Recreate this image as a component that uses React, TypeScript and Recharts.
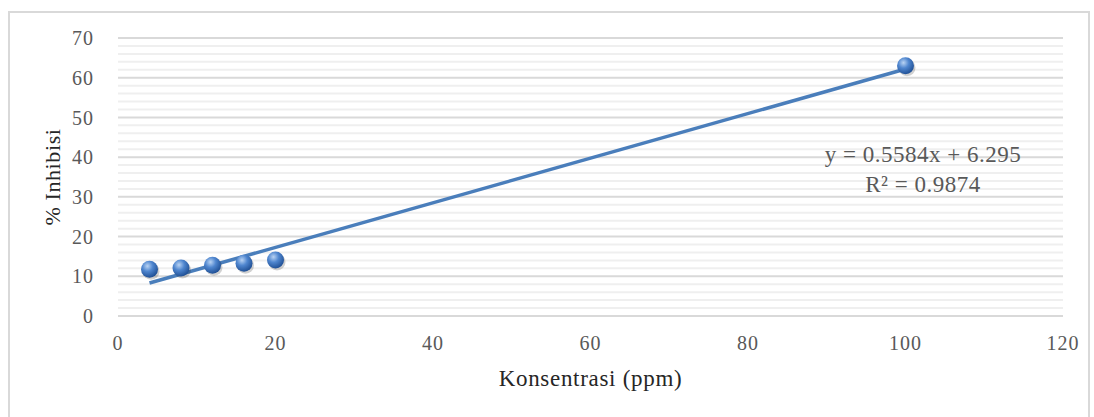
import { ScatterChart, Scatter, XAxis, YAxis, ReferenceLine, Label } from 'recharts';

// measured points (konsentrasi ppm vs % inhibisi)
const konsentrasi = [4, 8, 12, 16, 20, 100];
const inhibisi = [11.8, 12.1, 12.8, 13.3, 14.1, 63.0];

// linear trendline endpoints as drawn
const trendX = [4, 100];
const trendY = [8.3, 62.2];

const xTicks = [0, 20, 40, 60, 80, 100, 120];
const yTicks = [0, 10, 20, 30, 40, 50, 60, 70];
const gridValues = [
  0, 2, 4, 6, 8, 10, 12, 14, 16, 18, 20, 22, 24, 26, 28, 30, 32, 34, 36,
  38, 40, 42, 44, 46, 48, 50, 52, 54, 56, 58, 60, 62, 64, 66, 68, 70,
];

const points = konsentrasi.map((x, i) => ({ x, y: inhibisi[i] }));
const trend = trendX.map((x, i) => ({ x, y: trendY[i] }));

const FONT = '"Liberation Serif", "Times New Roman", serif';

const Ball = (props: any) => {
  const { cx, cy } = props;
  if (cx == null || cy == null) return null;
  return (
    <g>
      <defs>
        <radialGradient id="ball" cx="38%" cy="32%" r="70%">
          <stop offset="0%" stopColor="#b9d3f3" />
          <stop offset="45%" stopColor="#4f86cf" />
          <stop offset="100%" stopColor="#1f4f94" />
        </radialGradient>
      </defs>
      <circle cx={cx + 1.5} cy={cy + 2} r={8.5} fill="#000" opacity={0.18} />
      <circle cx={cx} cy={cy} r={8.5} fill="url(#ball)" />
    </g>
  );
};

export default function App() {
  return (
    <div style={{ position: 'absolute', left: 0, top: 0, width: 1094, height: 417, background: '#fff', overflow: 'hidden' }}>
      <div
        style={{
          position: 'absolute',
          left: 8,
          top: 11,
          width: 1082,
          height: 420,
          border: '2px solid #d9d9d9',
          boxSizing: 'border-box',
        }}
      />
      <ScatterChart
        width={1094}
        height={417}
        margin={{ top: 38, right: 31, bottom: 41, left: 0 }}
        style={{ position: 'absolute', left: 0, top: 0 }}
      >
        <XAxis
          type="number"
          dataKey="x"
          domain={[0, 120]}
          ticks={xTicks}
          height={60}
          axisLine={false}
          tickLine={false}
          tick={{ fill: '#595959', fontSize: 20, fontFamily: FONT, letterSpacing: 1 }}
          tickMargin={14}
        >
          <Label
            value="Konsentrasi (ppm)"
            position="insideBottom"
            offset={-10}
            style={{ fill: '#262626', fontSize: 23, fontFamily: FONT, letterSpacing: 0.7 }}
          />
        </XAxis>
        <YAxis
          type="number"
          dataKey="y"
          domain={[0, 70]}
          ticks={yTicks}
          width={118}
          axisLine={false}
          tickLine={false}
          tick={{ fill: '#595959', fontSize: 20, fontFamily: FONT, letterSpacing: 1 }}
          tickMargin={18}
        >
          <Label
            value="% Inhibisi"
            angle={-90}
            position="insideLeft"
            offset={52}
            style={{ fill: '#262626', fontSize: 22, fontFamily: FONT, letterSpacing: 0.6, textAnchor: 'middle' }}
          />
        </YAxis>
        {gridValues.map((v) => (
          <ReferenceLine
            key={v}
            y={v}
            stroke={v % 10 === 0 ? '#d9d9d9' : '#efefef'}
            strokeWidth={2}
            ifOverflow="extendDomain"
          />
        ))}
        <Scatter
          data={trend}
          line={{ stroke: '#4a7ebb', strokeWidth: 3.5 }}
          shape={() => null}
          isAnimationActive={false}
        />
        <Scatter data={points} shape={Ball} isAnimationActive={false} />
      </ScatterChart>
      <div
        style={{
          position: 'absolute',
          left: 813,
          top: 140,
          width: 220,
          textAlign: 'center',
          fontFamily: FONT,
          fontSize: 23,
          letterSpacing: 0.5,
          lineHeight: '30px',
          color: '#595959',
        }}
      >
        <div>y = 0.5584x + 6.295</div>
        <div>R² = 0.9874</div>
      </div>
    </div>
  );
}
